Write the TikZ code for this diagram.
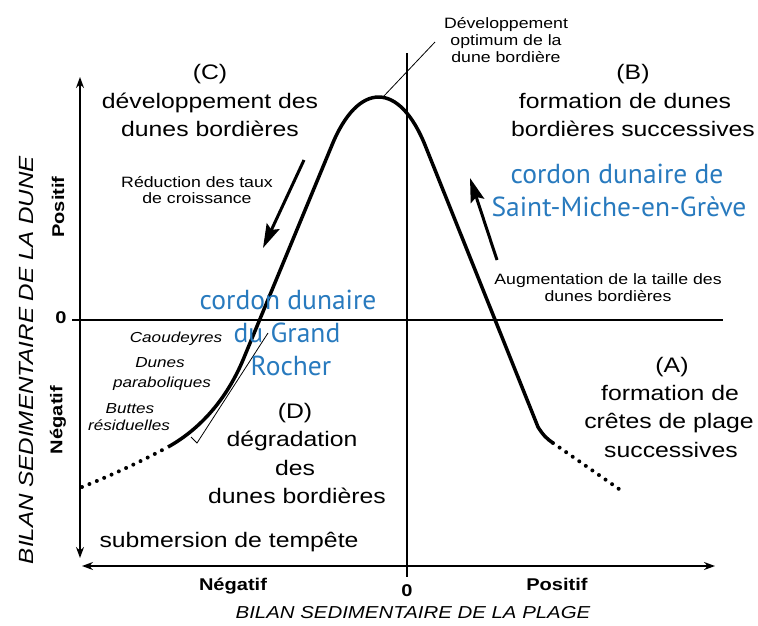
\documentclass[tikz,border=0pt]{standalone}
\usepackage{fontspec}
\setmainfont[FakeStretch=1.18]{Liberation Sans}
\newfontfamily\bluefont{PT Sans}
\usetikzlibrary{arrows.meta}
\definecolor{cordblue}{RGB}{40,122,190}
\begin{document}
\begin{tikzpicture}[x=1pt,y=-1pt,
  txt/.style={anchor=base, inner sep=0pt},
  big/.style={txt, font=\fontsize{21}{25}\selectfont},
  small/.style={txt, font=\fontsize{15}{17}\selectfont},
  ital/.style={txt, font=\fontsize{14.5}{17}\selectfont\itshape},
  bld/.style={txt, font=\fontsize{17}{19}\selectfont\bfseries},
  blue/.style={txt, font=\fontsize{27.5}{30}\selectfont\bluefont, text=cordblue},
  axis/.style={line width=1.5pt, {Stealth[length=11pt,width=8pt]}-{Stealth[length=11pt,width=8pt]}},
  zeroline/.style={line width=1.2pt},
  curve/.style={line width=3.5pt, line join=round},
  dots/.style={line width=4pt, line cap=round, dash pattern=on 0pt off 8pt},
  bigarrow/.style={line width=3pt, -{Stealth[length=24pt,width=14pt,inset=4pt]}},
  thin/.style={line width=0.8pt}
]
\useasboundingbox (0,0) rectangle (758,625);

% axes
\coordinate (ytop) at (80,77);
\coordinate (ybot) at (80,558);
\coordinate (xleft) at (82,566);
\coordinate (xright) at (715,566);
\draw[axis] (ybot) -- (ytop);
\draw[axis] (xleft) -- (xright);
\coordinate (z0l) at (72,320);
\coordinate (z0r) at (723,320);
\coordinate (vt) at (407,53);
\coordinate (vb) at (407,577);
\draw[zeroline] (z0l) -- (z0r);
\draw[zeroline] (vt) -- (vb);

% curve
\coordinate (dl0) at (82,487);
\coordinate (c0) at (168,447);
\coordinate (c1) at (243,360);
\coordinate (c2) at (331.6,146);
\coordinate (c3) at (425.4,146);
\coordinate (c4) at (538,427);
\coordinate (c5) at (553,443);
\coordinate (dr1) at (619,489);
\draw[dots] (dl0) .. controls (110,476) and (140,462) .. (c0);
\draw[curve] (c0) .. controls (195,432) and (224,405) .. (c1) -- (c2)
  .. controls (358,80.7) and (399.3,80.7) .. (c3) -- (c4)
  .. controls (543,435) and (547,439) .. (c5);
\draw[dots] (c5) -- (dr1);

% bracket
\coordinate (b0) at (268,333);
\coordinate (b1) at (197,443);
\coordinate (b2) at (191,437);
\draw[thin] (b0) -- (b1) -- (b2);

% leader
\coordinate (l0) at (383,97);
\coordinate (l1) at (435,42);
\draw[thin] (l0) -- (l1);

% big arrows
\coordinate (a1s) at (304,160);
\coordinate (a1e) at (263,248);
\coordinate (a2s) at (497,260);
\coordinate (a2e) at (470,178);
\draw[bigarrow] (a1s) -- (a1e);
\draw[bigarrow] (a2s) -- (a2e);

% texts
\node[small] (dev1) at (506,28) {Développement};
\node[small] (dev2) at (506,45) {optimum de la};
\node[small] (dev3) at (506,62) {dune bordière};

\node[big] (C1) at (210,79) {(C)};
\node[big] (C2) at (210,108) {développement des};
\node[big] (C3) at (210,136) {dunes bordières};

\node[big] (B1) at (633,79) {(B)};
\node[big] (B2) at (625,108) {formation de dunes};
\node[big] (B3) at (633,136) {bordières successives};

\node[small] (r1) at (197,187) {Réduction des taux};
\node[small] (r2) at (197,203) {de croissance};

\node[small] (g1) at (608,284) {Augmentation de la taille des};
\node[small] (g2) at (608,301) {dunes bordières};

\node[blue] (sm1) at (617,183) {cordon dunaire de};
\node[blue] (sm2) at (619,216) {Saint-Miche-en-Grève};

\node[blue] (gr1) at (288,309) {cordon dunaire};
\node[blue] (gr2) at (287,342) {du Grand};
\node[blue] (gr3) at (291,375) {Rocher};

\node[ital] (i1) at (176,342) {Caoudeyres};
\node[ital] (i2) at (160,367) {Dunes};
\node[ital] (i3) at (162,387) {paraboliques};
\node[ital] (i4) at (130,413) {Buttes};
\node[ital] (i5) at (129,430) {résiduelles};

\node[big] (D1) at (295,418) {(D)};
\node[big] (D2) at (292,446) {dégradation};
\node[big] (D3) at (295,475) {des};
\node[big] (D4) at (297,503) {dunes bordières};

\node[big] (A1) at (672,372) {(A)};
\node[big] (A2) at (670,400) {formation de};
\node[big] (A3) at (669,428) {crêtes de plage};
\node[big] (A4) at (671,457) {successives};

\node[big] (sub) at (229,547) {submersion de tempête};

\node[bld] (xneg) at (233,590) {Négatif};
\node[bld] (xzero) at (407,596) {0};
\node[bld] (xpos) at (557,590) {Positif};

\node[bld, anchor=center, rotate=90] (ypos) at (58,207) {Positif};
\node[bld, anchor=center, rotate=90] (yneg) at (58,420) {Négatif};
\node[bld, anchor=center] (yzero) at (61,318) {0};

\node[anchor=center, inner sep=0pt, rotate=90, font=\fontsize{20.5}{22}\selectfont\itshape] (ylab) at (26,360) {BILAN SEDIMENTAIRE DE LA DUNE};
\node[anchor=center, inner sep=0pt, font=\fontsize{17.3}{20}\selectfont\itshape] (xlab) at (413,613) {BILAN SEDIMENTAIRE DE LA PLAGE};
\end{tikzpicture}
\end{document}
